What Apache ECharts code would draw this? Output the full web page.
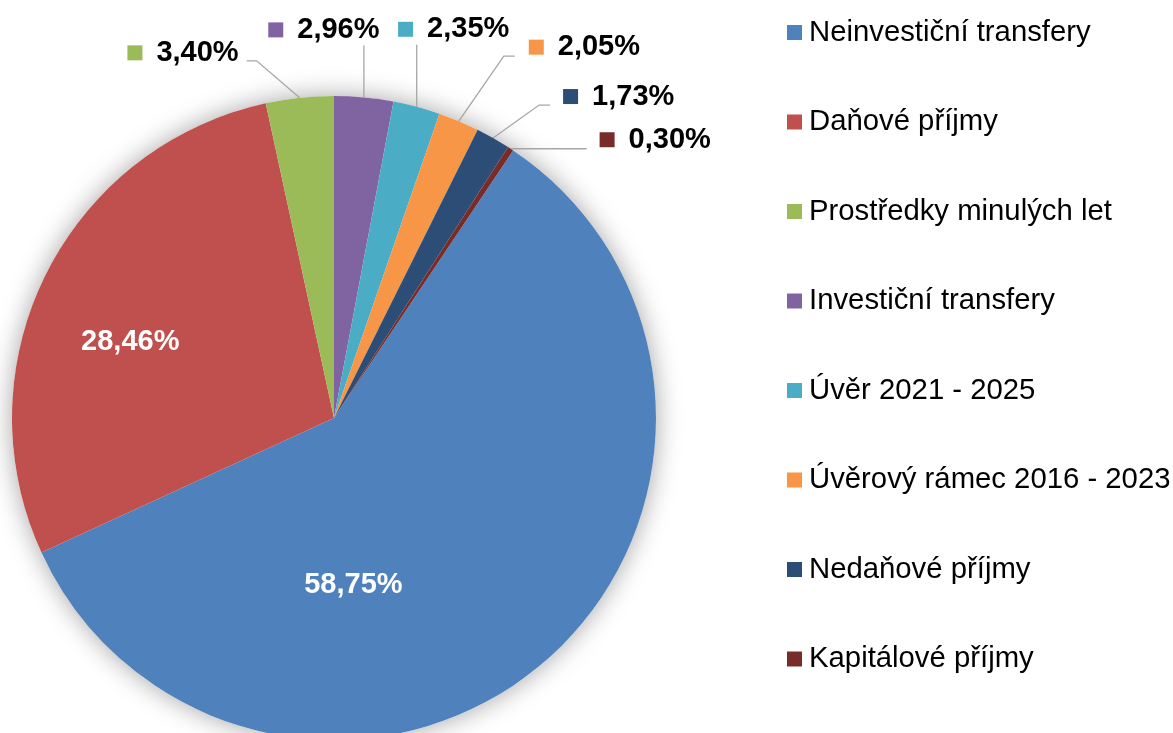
<!DOCTYPE html>
<html><head><meta charset="utf-8">
<script src="https://cdn.jsdelivr.net/npm/echarts@6/dist/echarts.min.js"></script>
<style>html,body{margin:0;padding:0;background:#fff}#c{width:1173px;height:733px}</style>
</head><body><div id="c"></div>
<script>
const categories = ['Neinvestiční transfery','Daňové příjmy','Prostředky minulých let','Investiční transfery','Úvěr 2021 - 2025','Úvěrový rámec 2016 - 2023','Nedaňové příjmy','Kapitálové příjmy'];
const shares = [58.75, 28.46, 3.40, 2.96, 2.35, 2.05, 1.73, 0.30];
const colors = ['#4F81BD','#C0504D','#9BBB59','#8064A2','#4BACC6','#F79646','#2C4D75','#772C2A'];

// label placement styling (offsets relative to library-computed anchors)
const labelPlace = [
  {inside:true, dx:-87, dy:42},
  {inside:true, dx:-57, dy:-3},
  {knee:[-43,-37], len2:-10, align:'right', ox:-8, dy:-8},
  {knee:[0,-52], len2:0, align:'center', ox:-40, dy:-15.5},
  {knee:[0,-62], len2:0, align:'center', ox:37, dy:-15.5},
  {knee:[45,-65], len2:11, align:'left', ox:14, dy:-9},
  {knee:[46,-33], len2:11, align:'left', ox:13, dy:-8.5},
  {knee:[0,0], len2:76, align:'left', ox:13, dy:-9}
];
const FONT = "'Liberation Sans', Arial, sans-serif";

const rich = { v: {fontSize:29, fontWeight:'bold', color:'#000', fontFamily:FONT, padding:[0,0,0,14]} };
colors.forEach((c,i)=>{ rich['m'+i] = {width:15, height:15, backgroundColor:c}; });

const data = categories.map((name,i)=>{
  const d = {name, value: shares[i], itemStyle:{color:colors[i]}};
  if (labelPlace[i].inside) {
    d.label = {position:'inside', color:'#fff'};
    d.labelLine = {show:false};
  }
  return d;
});

const chart = echarts.init(document.getElementById('c'), null, {renderer:'canvas'});
chart.setOption({
  animation:false,
  backgroundColor:'#fff',
  legend:{
    orient:'vertical', left:787, top:17.5, padding:0,
    itemWidth:15, itemHeight:15, itemGap:59.5, icon:'rect',
    selectedMode:false, data: categories,
    textStyle:{fontSize:29.3, lineHeight:30, color:'#000', fontFamily:FONT, padding:[0,0,0,2]}
  },
  series:[
    {
      type:'pie', silent:true, center:[334,418], radius:322, z:1,
      label:{show:false}, labelLine:{show:false}, tooltip:{show:false},
      itemStyle:{color:'#fff', shadowBlur:26, shadowColor:'rgba(0,0,0,0.36)'},
      data:[{value:1, name:'__bg'}]
    },
    {
      type:'pie', center:[334,418], radius:322, z:2,
      startAngle:56.2, clockwise:true, avoidLabelOverlap:false,
      itemStyle:{borderWidth:0},
      label:{
        show:true, position:'outside', fontSize:29, fontWeight:'bold', color:'#000', fontFamily:FONT,
        rich: rich,
        formatter: p => {
          const t = p.value.toFixed(2).replace('.', ',') + '%';
          return labelPlace[p.dataIndex].inside ? t : '{m'+p.dataIndex+'|}{v|'+t+'}';
        }
      },
      labelLine:{show:true, smooth:false, length:20, length2:10, lineStyle:{color:'#A6A6A6', width:1.3}},
      labelLayout: function(params){
        const pl = labelPlace[params.dataIndex];
        if (!pl) return {};
        if (pl.inside) return {dx:pl.dx, dy:pl.dy};
        const a = params.labelLinePoints[0];
        const k = [a[0]+pl.knee[0], a[1]+pl.knee[1]];
        const e = [k[0]+pl.len2, k[1]];
        return {x:e[0]+pl.ox, y:e[1]+pl.dy, align:pl.align, verticalAlign:'middle', labelLinePoints:[a,k,e]};
      },
      data: data
    }
  ]
});
</script></body></html>
